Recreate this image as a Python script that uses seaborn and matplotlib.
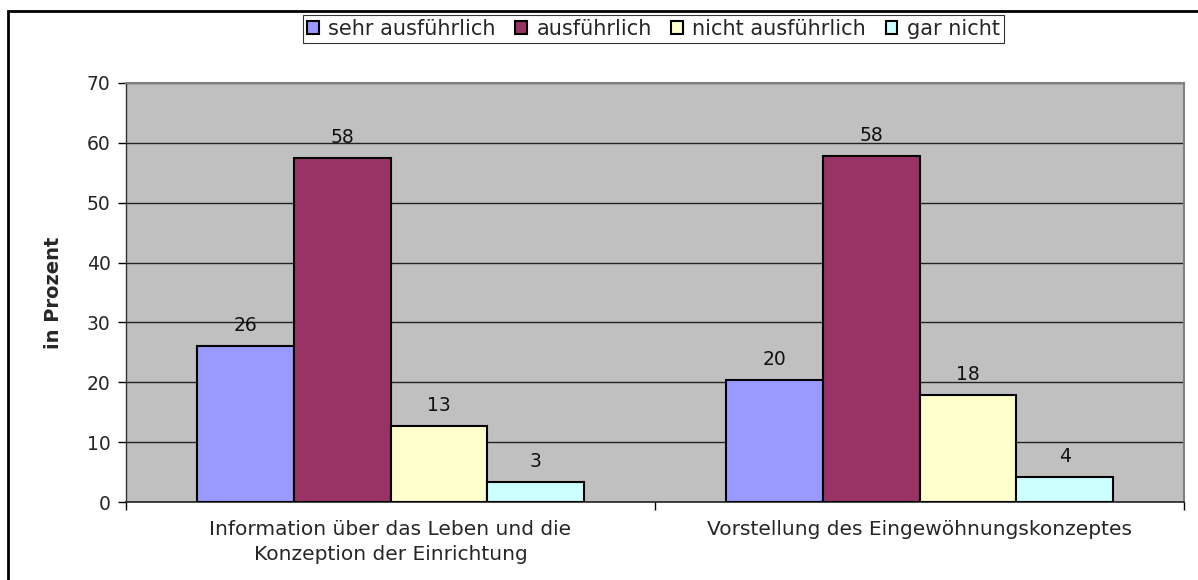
import matplotlib
matplotlib.use("Agg")
import matplotlib.pyplot as plt
import seaborn as sns
import pandas as pd
from matplotlib.patches import Rectangle, Patch

categories = ["Information über das Leben und die\nKonzeption der Einrichtung",
              "Vorstellung des Eingewöhnungskonzeptes"]
series = ["sehr ausführlich", "ausführlich", "nicht ausführlich", "gar nicht"]
values = {
    "sehr ausführlich": [26.1, 20.3],
    "ausführlich": [57.5, 57.8],
    "nicht ausführlich": [12.7, 17.9],
    "gar nicht": [3.4, 4.2],
}
colors = ["#9999FF", "#993366", "#FFFFCC", "#CCFFFF"]
yticks = [0, 10, 20, 30, 40, 50, 60, 70]

rows = []
for s in series:
    for c, v in zip(categories, values[s]):
        rows.append({"Kategorie": c, "Serie": s, "Wert": v})
df = pd.DataFrame(rows)

sns.set_theme(style="white")
plt.rcParams['font.family'] = ['DejaVu Sans']

fig = plt.figure(figsize=(11.98, 5.80), dpi=100)
ax = fig.add_axes([126/1198, 1 - 502/580, (1184-126)/1198, (502-83)/580])

sns.barplot(data=df, x="Kategorie", y="Wert", hue="Serie", order=categories,
            hue_order=series, palette=colors, width=0.733, saturation=1,
            edgecolor="black", linewidth=1.5, ax=ax, legend=False, zorder=3)

for cont in ax.containers:
    ax.bar_label(cont, fmt="%.0f", padding=8, fontsize=13.5, color="#111111")

ax.set_facecolor("#C0C0C0")
ax.set_xlim(-0.5, 1.5)
ax.set_ylim(0, 70)
ax.set_yticks(yticks)
ax.yaxis.grid(True, color="#222222", linewidth=1, zorder=0)
ax.set_axisbelow(True)
ax.set_xlabel("")
ax.set_ylabel("in Prozent", fontsize=14, fontweight="bold", labelpad=17)

ax.tick_params(axis="y", which="major", left=True, length=6, width=1, color="black",
               labelsize=13.5, pad=5, direction="out")
ax.set_xticks([0, 1])
ax.set_xticklabels(categories, fontsize=14.5, linespacing=1.4)
ax.tick_params(axis="x", which="major", bottom=False, pad=7)
ax.set_xticks([-0.5, 0.5, 1.5], minor=True)
ax.tick_params(axis="x", which="minor", bottom=True, length=6, width=1, color="black", direction="out")

for side in ["top", "right"]:
    ax.spines[side].set_color("#808080")
    ax.spines[side].set_linewidth(1.5)
ax.spines["left"].set_color("#333333")
ax.spines["bottom"].set_color("#222222")
ax.spines["left"].set_linewidth(1)
ax.spines["bottom"].set_linewidth(1.2)

handles = [Patch(facecolor=c, edgecolor="black", linewidth=1.5) for c in colors]
leg = fig.legend(handles, series, loc="center", bbox_to_anchor=(653.5/1198, 1 - 29/580),
                 ncol=4, frameon=True, fontsize=15, handlelength=0.55, handleheight=0.55,
                 handletextpad=0.45, columnspacing=0.95, borderpad=0.2, fancybox=False)
leg.get_frame().set_edgecolor("black")
leg.get_frame().set_linewidth(0.8)

fig.patches.append(Rectangle((8/1198, -0.05), 1.2, (580-11)/580 + 0.05,
                             transform=fig.transFigure, fill=False,
                             edgecolor="black", linewidth=2))

fig.savefig("out.png", dpi=100, facecolor="white")
